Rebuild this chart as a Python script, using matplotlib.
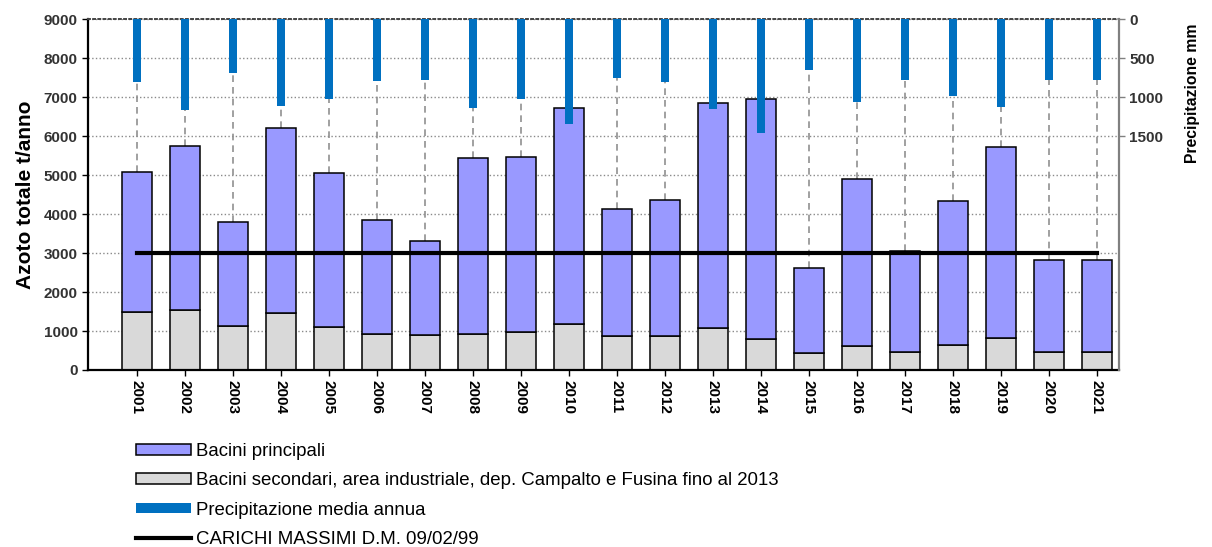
import numpy as np
import matplotlib
matplotlib.use('Agg')
import matplotlib.pyplot as plt
from matplotlib.patches import Patch
from matplotlib.lines import Line2D

plt.rcParams['font.family'] = ['Liberation Sans', 'DejaVu Sans']

years = ['2001', '2002', '2003', '2004', '2005', '2006', '2007', '2008', '2009', '2010', '2011',
         '2012', '2013', '2014', '2015', '2016', '2017', '2018', '2019', '2020', '2021']
# total load (t/anno) and the secondary part of it
totale = [5070, 5740, 3800, 6220, 5050, 3850, 3310, 5440, 5470, 6730, 4130,
          4350, 6850, 6950, 2620, 4910, 3060, 4330, 5710, 2810, 2820]
secondari = [1500, 1530, 1130, 1450, 1100, 920, 890, 930, 970, 1180, 880,
             880, 1080, 800, 430, 610, 450, 640, 810, 450, 450]
principali = [t - s for t, s in zip(totale, secondari)]
# precipitazione media annua (mm)
precip = [800, 1160, 690, 1110, 1030, 795, 780, 1145, 1020, 1350, 750,
          800, 1155, 1465, 655, 1065, 775, 985, 1130, 785, 785]
carichi_massimi = 3000

x = np.arange(len(years))

fig = plt.figure(figsize=(12.12, 5.47), dpi=100)
ax = fig.add_axes([0.0726, 0.3236, 0.8507, 0.6414])

ax.set_axisbelow(True)
ax.yaxis.grid(True, linestyle=':', color='#8a8a8a', linewidth=1)
ax.vlines(x, totale, 9000, colors='#909090', linestyles=(0, (4, 3)), linewidth=1.2, zorder=1)

ax.bar(x, secondari, width=0.63, color='#d9d9d9', edgecolor='black', linewidth=1.1, zorder=2)
ax.bar(x, principali, width=0.63, bottom=secondari, color='#9999ff', edgecolor='black',
       linewidth=1.1, zorder=2)
ax.plot([x[0], x[-1]], [carichi_massimi, carichi_massimi], color='black', linewidth=3, zorder=3)

ax.set_xlim(-1.02, 20.46)
ax.set_ylim(0, 9000)
ax.set_yticks(range(0, 9001, 1000))
ax.set_xticks(x)
ax.set_xticklabels(years, rotation=-90, fontsize=11, fontweight='bold')
ax.tick_params(axis='y', labelsize=11, length=4, width=1, colors='black')
ax.tick_params(axis='x', length=4, width=1)
for lab in ax.get_yticklabels():
    lab.set_fontweight('bold')
    lab.set_color('#333333')
ax.set_ylabel('Azoto totale t/anno', fontsize=15, fontweight='bold', labelpad=6)

for s in ['left', 'bottom']:
    ax.spines[s].set_linewidth(1.6)
    ax.spines[s].set_color('black')
ax.spines['top'].set_linestyle(':')
ax.spines['top'].set_color('#444444')
ax.spines['top'].set_linewidth(1.4)
ax.spines['right'].set_visible(False)

ax2 = ax.twinx()
ax2.bar(x, precip, width=0.15, color='#0070c0', zorder=4)
ax2.set_ylim(4500, 0)
ax2.set_yticks([0, 500, 1000, 1500])
ax2.tick_params(axis='y', labelsize=11, length=4, width=1, colors='#808080', labelcolor='#333333')
for lab in ax2.get_yticklabels():
    lab.set_fontweight('bold')
ax2.set_ylabel('Precipitazione mm', fontsize=11.3, fontweight='bold')
ax2.yaxis.set_label_coords(1.064, 0.79)
for s in ['left', 'bottom', 'top']:
    ax2.spines[s].set_visible(False)
ax2.spines['right'].set_color('#808080')
ax2.spines['right'].set_linewidth(1.6)

handles = [
    Patch(facecolor='#9999ff', edgecolor='black', linewidth=1.1),
    Patch(facecolor='#d9d9d9', edgecolor='black', linewidth=1.1),
    Patch(facecolor='#0070c0', edgecolor='none'),
    Line2D([0], [0], color='black', linewidth=3),
]
labels = ['Bacini principali',
          'Bacini secondari, area industriale, dep. Campalto e Fusina fino al 2013',
          'Precipitazione media annua',
          'CARICHI MASSIMI D.M. 09/02/99']
fig.legend(handles, labels, loc='upper left', bbox_to_anchor=(0.112, 0.19), frameon=False,
           fontsize=13.4, handlelength=2.95, handleheight=0.49, handletextpad=0.27,
           labelspacing=0.66, borderpad=0, borderaxespad=0)

fig.savefig('out.png', dpi=100)
